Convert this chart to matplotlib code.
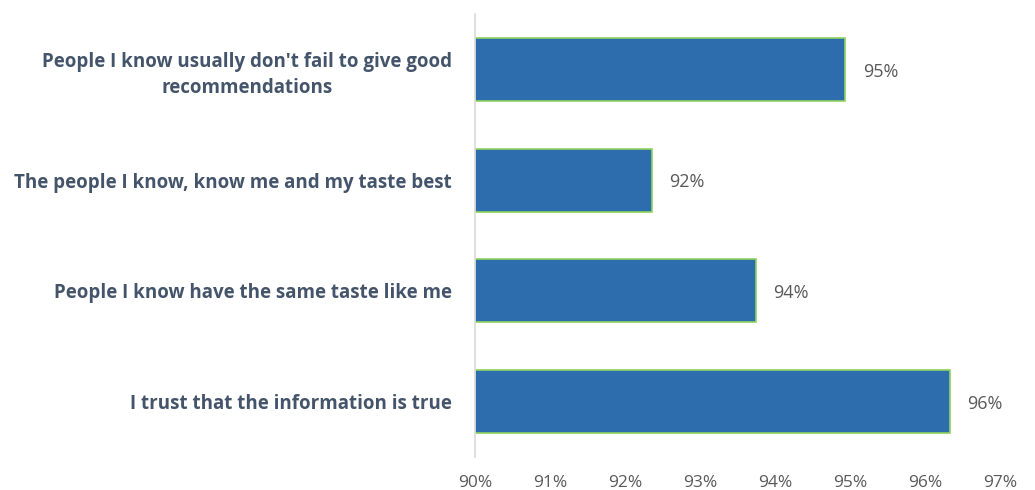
import matplotlib.pyplot as plt
import numpy as np

# survey reasons, top to bottom
reasons = [
    "People I know usually don't fail to give good\nrecommendations",
    "The people I know, know me and my taste best",
    "People I know have the same taste like me",
    "I trust that the information is true",
]
shares = [94.94, 92.36, 93.75, 96.34]
ticks = [90, 91, 92, 93, 94, 95, 96, 97]

fig = plt.figure(figsize=(10.35, 4.9), dpi=100)
ax = fig.add_axes([0.459, 0.0673, 0.507, 0.904])

y = np.arange(len(reasons))
ax.barh(y, np.array(shares) - 90, left=90, height=0.57,
        color="#2E6DAD", edgecolor="#8FD35E", linewidth=1.2)

for yi, v in zip(y, shares):
    ax.text(v + 0.23, yi + 0.02, f"{v:.0f}%", va="center", ha="left",
            fontsize=13, color="#595959", family="Open Sans")

ax.set_xlim(90, 97)
ax.set_ylim(len(reasons) - 0.5, -0.5)
ax.set_xticks(ticks)
ax.set_xticklabels([f"{t}%" for t in ticks], fontsize=12.5, color="#595959",
                   family="Open Sans")
ax.set_yticks(y)
ax.set_yticklabels(reasons, fontsize=13.5, fontweight="bold", color="#44546A",
                   family="Open Sans", multialignment="center",
                   linespacing=1.4)
ax.tick_params(length=0)
ax.tick_params(axis="y", pad=16.5)
ax.tick_params(axis="x", pad=13)

for s in ["top", "right", "bottom"]:
    ax.spines[s].set_visible(False)
ax.spines["left"].set_color("#D9D9D9")
ax.spines["left"].set_linewidth(1.2)

fig.savefig("out.png", dpi=100)
